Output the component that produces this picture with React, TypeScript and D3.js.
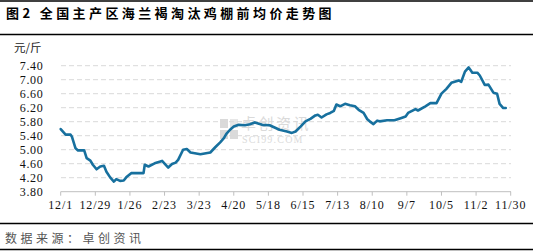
import React from "react";
import * as d3 from "d3";

const dates: string[] = [
  "2022-12-01","2022-12-05","2022-12-09","2022-12-10","2022-12-13","2022-12-15","2022-12-20","2022-12-22",
  "2022-12-25","2022-12-27","2022-12-30","2023-01-02","2023-01-05","2023-01-07","2023-01-10","2023-01-13",
  "2023-01-15","2023-01-18","2023-01-21","2023-01-23","2023-01-27","2023-02-06","2023-02-07","2023-02-10",
  "2023-02-15","2023-02-21","2023-02-26","2023-03-01","2023-03-04","2023-03-06","2023-03-10","2023-03-13",
  "2023-03-16","2023-03-24","2023-04-01","2023-04-05","2023-04-09","2023-04-12","2023-04-14","2023-04-17",
  "2023-04-20","2023-04-24","2023-04-29","2023-05-03","2023-05-07","2023-05-13","2023-05-19","2023-05-27",
  "2023-06-02","2023-06-06","2023-06-09","2023-06-13","2023-06-17","2023-06-21","2023-06-25","2023-06-27",
  "2023-06-30","2023-07-04","2023-07-07","2023-07-10","2023-07-12","2023-07-15","2023-07-19","2023-07-23",
  "2023-07-27","2023-07-30","2023-08-03","2023-08-06","2023-08-08","2023-08-11","2023-08-14","2023-08-16",
  "2023-08-22","2023-08-28","2023-09-02","2023-09-06","2023-09-08","2023-09-14","2023-09-16","2023-09-22",
  "2023-09-26","2023-10-01","2023-10-05","2023-10-09","2023-10-13","2023-10-19","2023-10-21","2023-10-24",
  "2023-10-27","2023-10-30","2023-11-03","2023-11-05","2023-11-09","2023-11-12","2023-11-16","2023-11-19",
  "2023-11-21","2023-11-24","2023-11-26",
];

const prices: number[] = [
  5.59,5.43,5.43,5.38,5.04,4.98,4.98,4.76,
  4.69,4.57,4.44,4.52,4.54,4.37,4.21,4.09,
  4.16,4.11,4.12,4.21,4.33,4.33,4.57,4.52,
  4.61,4.68,4.49,4.59,4.63,4.71,5.0,5.02,
  4.92,4.87,4.92,5.07,5.21,5.33,5.45,5.57,
  5.66,5.71,5.70,5.73,5.78,5.71,5.70,5.57,
  5.52,5.48,5.52,5.66,5.81,5.88,5.98,6.0,
  5.92,6.01,6.05,6.11,6.29,6.24,6.31,6.27,
  6.24,6.14,6.05,5.87,5.81,5.73,5.83,5.81,
  5.84,5.84,5.90,5.95,6.05,6.16,6.12,6.24,
  6.33,6.33,6.60,6.74,6.91,6.98,6.94,7.23,
  7.35,7.20,7.20,7.12,6.85,6.86,6.63,6.60,
  6.31,6.19,6.19,
];

const tickDates: string[] = [
  "2022-12-01","2022-12-29","2023-01-26","2023-02-23","2023-03-23","2023-04-20","2023-05-18",
  "2023-06-15","2023-07-13","2023-08-10","2023-09-07","2023-10-05","2023-11-02","2023-11-30",
];

const yTicks: number[] = [3.8, 4.2, 4.6, 5.0, 5.4, 5.8, 6.2, 6.6, 7.0, 7.4];

const title = "图2 全国主产区海兰褐淘汰鸡棚前均价走势图";
const unit = "元/斤";
const source = "数据来源：卓创资讯";

export default function App() {
  const W = 533, H = 251;
  const parse = d3.timeParse("%Y-%m-%d");
  const fmt = d3.timeFormat("%-m/%-d");
  const x = d3.scaleTime()
    .domain([parse("2022-12-01") as Date, parse("2023-11-30") as Date])
    .range([60.7, 510.7]);
  const y = d3.scaleLinear().domain([3.8, 7.4]).range([191.7, 65.7]);
  const pts = dates.map((d, i) => [parse(d) as Date, prices[i]] as [Date, number]);
  const line = d3.line<[Date, number]>().x(d => x(d[0])).y(d => y(d[1]));
  const ticks = tickDates.map(d => parse(d) as Date);
  const numFont = "'Liberation Serif', 'DejaVu Serif', serif";
  const cjk = "'Noto Sans CJK SC', sans-serif";

  return (
    <svg width={W} height={H} style={{ position: "absolute", left: 0, top: 0, background: "#fff" }}>
      <rect x={0} y={0} width={W} height={H} fill="#fff" />
      <line x1={0} x2={W} y1={1} y2={1} stroke="#000" strokeWidth={1.5} />
      <text x={6} y={18} fontFamily={cjk} fontWeight="bold" fontSize={13} letterSpacing={3.4} fill="#000">{title}</text>
      <line x1={0} x2={W} y1={34.5} y2={34.5} stroke="#000" strokeWidth={1.5} />

      <text x={14} y={52} fontFamily={cjk} fontSize={11.5} fill="#222">{unit}</text>

      {/* watermark */}
      <g opacity={0.55}>
        <rect x={220} y={119} width={8} height={9} fill="#bdbdbd" />
        <rect x={220} y={130} width={8} height={9} fill="#bdbdbd" />
        <rect x={230} y={130} width={8} height={9} fill="#bdbdbd" />
        <rect x={230} y={119} width={8} height={9} fill="#d5d5d5" />
        <text x={241} y={129} fontFamily={cjk} fontSize={15} fill="#bdbdbd" letterSpacing={2.5}>卓创资讯</text>
        <text x={242} y={143} fontFamily={numFont} fontSize={10} fill="#bdbdbd" letterSpacing={1.2}>SCI99.COM</text>
      </g>

      {yTicks.filter(t => t > 3.8).map(t => (
        <line key={t} x1={61} x2={511} y1={y(t)} y2={y(t)} stroke="#d9d9d9" strokeWidth={1} strokeDasharray="5,3" />
      ))}
      <line x1={60.7} x2={511} y1={y(3.8)} y2={y(3.8)} stroke="#bfbfbf" strokeWidth={1} />
      {ticks.map((t, i) => (
        <line key={i} x1={x(t)} x2={x(t)} y1={y(3.8)} y2={y(3.8) + 4} stroke="#bfbfbf" strokeWidth={1} />
      ))}

      {yTicks.map(t => (
        <text key={t} x={43.5} y={y(t) + 4} textAnchor="end" fontFamily={numFont} fontSize={12} letterSpacing={0.7} fill="#111">{t.toFixed(2)}</text>
      ))}
      {ticks.map((t, i) => (
        <text key={i} x={x(t)} y={209} textAnchor="middle" fontFamily={numFont} fontSize={12} letterSpacing={0.9} fill="#111">{fmt(t)}</text>
      ))}

      <path d={line(pts) || ""} fill="none" stroke="#17709e" strokeWidth={2.6} strokeLinejoin="round" strokeLinecap="round" />

      <line x1={0} x2={W} y1={223.5} y2={223.5} stroke="#000" strokeWidth={1.5} />
      <text x={5} y={243} fontFamily={cjk} fontSize={12} letterSpacing={3.5} fill="#555">{source}</text>
      <line x1={0} x2={W} y1={249.5} y2={249.5} stroke="#000" strokeWidth={1.5} />
    </svg>
  );
}
